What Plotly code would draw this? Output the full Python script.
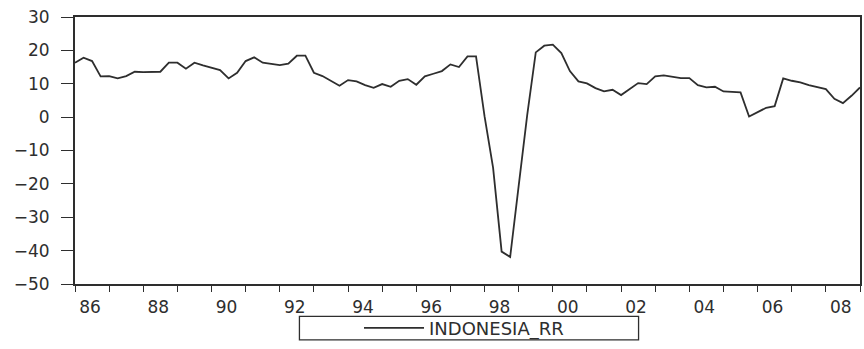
import pandas as pd
import plotly.graph_objects as go

# Quarterly observations, 1986Q1 .. 2009Q1
start_period = "1986Q1"
end_period = "2009Q1"
indonesia_rr = [
    16.3, 17.8, 16.8, 12.2, 12.3, 11.6, 12.3, 13.6, 13.5, 13.5, 13.6, 16.3,
    16.3, 14.5, 16.3, 15.5, 14.8, 14.1, 11.6, 13.3, 16.8, 17.9, 16.3, 16.0,
    15.6, 16.0, 18.4, 18.4, 13.3, 12.3, 10.9, 9.4, 11.1, 10.7, 9.6, 8.8,
    9.9, 9.1, 10.9, 11.4, 9.7, 12.2, 13.0, 13.8, 15.8, 15.0, 18.2, 18.2,
    0.2, -15.2, -40.3, -41.9, -20.5, 0.7, 19.4, 21.4, 21.7, 19.2, 13.8, 10.7,
    10.1, 8.7, 7.7, 8.2, 6.6, 8.4, 10.2, 9.9, 12.2, 12.5, 12.2, 11.7,
    11.7, 9.6, 8.9, 9.1, 7.7, 7.6, 7.4, 0.2, 1.5, 2.8, 3.3, 11.6,
    10.9, 10.4, 9.6, 9.1, 8.4, 5.5, 4.2, 6.4, 8.9,
]
tick_years = list(range(1986, 2010))
tick_labels = [f"{y % 100:02d}" if y % 2 == 0 and y < 2009 else "" for y in tick_years]
y_ticks = [30, 20, 10, 0, -10, -20, -30, -40, -50]

periods = pd.period_range(start_period, end_period, freq="Q")
x_vals = [p.year + (p.quarter - 1) / 4 for p in periods]

ink = "#2e2e2e"
family = "DejaVu Sans, Arial, sans-serif"
fnt = dict(family=family, size=17, color=ink)

W, H = 864, 349
ML, MR, MT, MB = 75, 2, 17, 60
plot_w = W - ML - MR
plot_h = H - MT - MB


def px_to_paper_x(px):
    return (px - ML) / plot_w


def px_to_paper_y(py):
    return ((H - MB) - py) / plot_h


fig = go.Figure()
fig.add_trace(go.Scatter(
    x=x_vals, y=indonesia_rr, mode="lines", name="INDONESIA_RR",
    line=dict(color=ink, width=1.8),
))

fig.update_layout(
    width=W, height=H,
    margin=dict(l=ML, r=MR, t=MT, b=MB),
    paper_bgcolor="white", plot_bgcolor="white",
    font=fnt,
    showlegend=True,
    legend=dict(
        orientation="h", x=px_to_paper_x(465), xanchor="center",
        y=px_to_paper_y(334), yanchor="middle",
        borderwidth=0, font=dict(size=18, color=ink, family=family),
        itemwidth=60, bgcolor="rgba(0,0,0,0)",
    ),
    shapes=[dict(
        type="rect", xref="paper", yref="paper",
        x0=px_to_paper_x(300), x1=px_to_paper_x(640),
        y0=px_to_paper_y(346), y1=px_to_paper_y(322),
        line=dict(color=ink, width=1.3), fillcolor="rgba(0,0,0,0)", layer="below",
    )],
)
fig.update_xaxes(
    range=[1986, 2009], tickmode="array", tickvals=tick_years, ticktext=tick_labels,
    ticks="outside", ticklen=6, tickwidth=1.3, tickcolor=ink,
    showline=True, linecolor=ink, linewidth=1.8, mirror=True,
    showgrid=False, zeroline=False, ticklabelshift=15, ticklabelstandoff=1,
    ticklabeloverflow="allow", tickfont=fnt,
)
fig.update_yaxes(
    range=[-50, 30], tickmode="array", tickvals=y_ticks,
    ticks="outside", ticklen=12, tickwidth=1.3, tickcolor=ink,
    showline=True, linecolor=ink, linewidth=1.8, mirror=True,
    showgrid=False, zeroline=False, ticklabelstandoff=8,
    ticklabeloverflow="allow", tickfont=fnt,
)

page_fix = (
    "var b=document.body;b.style.margin='0';b.style.padding='0';b.style.overflow='hidden';"
    "b.style.lineHeight='0';document.documentElement.style.overflow='hidden';"
    "var w=b.firstElementChild;if(w){w.style.width='864px';w.style.height='349px';"
    "w.style.overflow='hidden';w.style.lineHeight='0';}"
)
fig.write_html(
    "out.html",
    config={"displayModeBar": False},
    post_script=page_fix,
)
